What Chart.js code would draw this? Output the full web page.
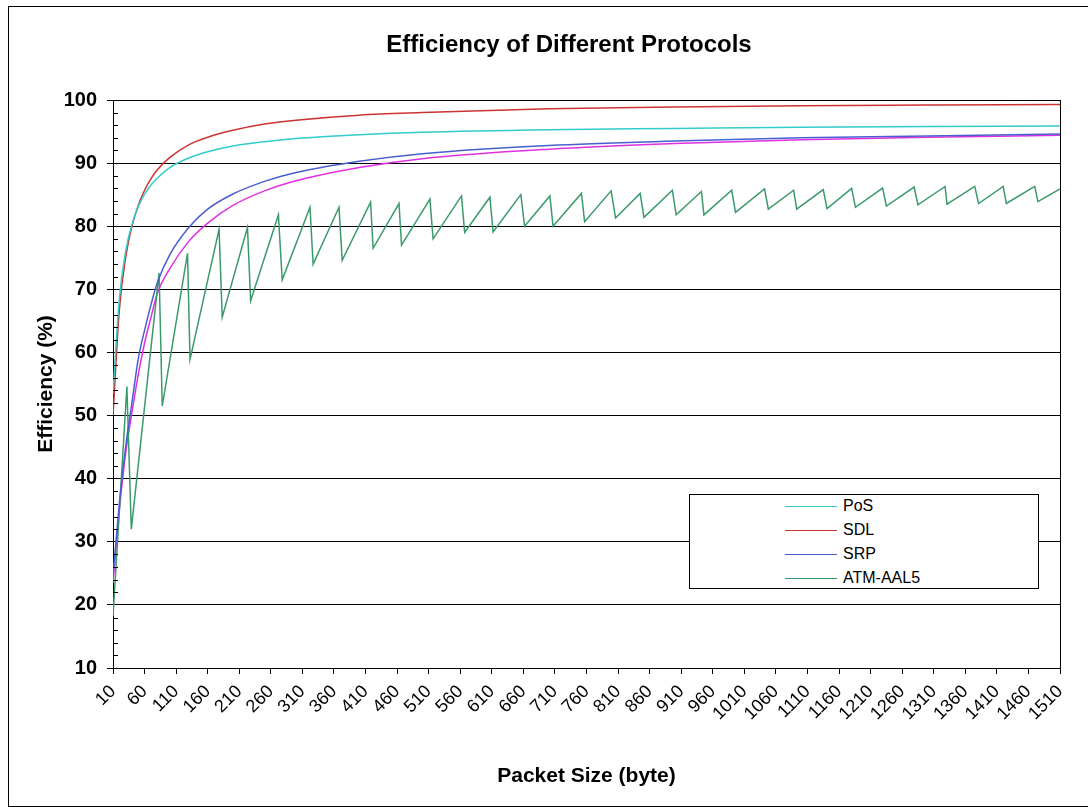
<!DOCTYPE html>
<html>
<head>
<meta charset="utf-8">
<title>Efficiency of Different Protocols</title>
<script src="https://cdn.jsdelivr.net/npm/chart.js@4.4.1/dist/chart.umd.min.js"></script>
<style>
    html, body { margin: 0; padding: 0; background: #fff; overflow: hidden; }
    body { width: 1088px; height: 807px; position: relative; font-family: Arial, "Liberation Sans", sans-serif; }
    #frame { position: absolute; left: 8px; top: 6px; width: 1200px; height: 799px; border: 1px solid #000; }
    #chart { position: absolute; left: 0; top: 0; }
    #legend {
        position: absolute; left: 689px; top: 494px; width: 348px; height: 93px;
        border: 1px solid #000; background: #fff;
    }
    #legend .row { position: absolute; left: 0; height: 24px; width: 100%; }
    #legend .swatch { position: absolute; left: 95px; top: 11px; width: 52px; height: 0; border-top: 1.5px solid; }
    #legend .label { position: absolute; left: 153px; top: 2px; font-size: 16px; line-height: 18px; color: #000; }
</style>
</head>
<body>
<div id="frame"></div>
<canvas id="chart" width="1138" height="807"></canvas>
<div id="legend"></div>
<script>
// x tick labels (packet size, bytes)
const xTicks = [10, 60, 110, 160, 210, 260, 310, 360, 410, 460, 510, 560, 610, 660, 710, 760,
    810, 860, 910, 960, 1010, 1060, 1110, 1160, 1210, 1260, 1310, 1360, 1410, 1460, 1510];

// packet sizes
const packetSizes = [10, 20, 30, 40, 50, 60, 70, 80, 100, 130, 160, 200, 250, 300, 400, 500, 700, 900, 1100, 1300, 1510];
const posValues = [53.5, 68.5, 76, 80.3, 83.1, 85.1, 86.5, 87.6, 89.3, 90.8, 91.8, 92.7, 93.4, 93.9, 94.5, 94.9, 95.3, 95.5, 95.7, 95.8, 95.9];
const sdlValues = [50, 66.7, 75, 80, 83.3, 85.7, 87.5, 88.9, 90.9, 92.9, 94.1, 95.2, 96.2, 96.8, 97.6, 98.0, 98.6, 98.9, 99.1, 99.2, 99.3];
const srpValues = [24.5, 36, 45, 52, 59, 63.5, 67.5, 71, 75.5, 79.8, 82.7, 85.1, 87.1, 88.5, 90.3, 91.5, 92.8, 93.5, 94.0, 94.3, 94.6];
// fifth curve (magenta) has no legend entry in the original
const extraValues = [23.5, 35, 44, 50.5, 56.5, 61.5, 65.5, 69.3, 73.3, 77.6, 80.5, 83.3, 85.6, 87.2, 89.3, 90.7, 92.2, 93.1, 93.7, 94.1, 94.4];

// ATM-AAL5 sawtooth: peaks and troughs
const atmSizes = [10, 32, 39, 83, 88, 128, 132, 178, 183, 223, 228, 272, 278, 322, 327, 368, 373, 418, 422,
    463, 467, 512, 517, 562, 567, 607, 612, 656, 662, 702, 707, 752, 757, 799, 806, 845, 851, 896, 902,
    942, 946, 990, 996, 1042, 1048, 1088, 1093, 1135, 1141, 1180, 1186, 1229, 1235, 1279, 1285,
    1328, 1331, 1375, 1381, 1420, 1425, 1470, 1475, 1510];
const atmValues = [18.2, 54.6, 32.0, 72.6, 51.5, 75.7, 58.9, 79.5, 65.6, 79.8, 68.2, 81.8, 71.5, 83.0, 74.0, 83.0, 74.6, 83.8, 76.5,
    83.6, 77.0, 84.3, 78.0, 84.8, 79.0, 84.6, 79.1, 85.0, 80.0, 84.8, 80.0, 85.2, 80.7, 85.6, 81.3, 85.2, 81.4, 85.7, 81.8,
    85.5, 81.8, 85.7, 82.2, 85.9, 82.7, 85.7, 82.7, 85.8, 82.8, 86.0, 83.0, 86.05, 83.2, 86.2, 83.4,
    86.3, 83.5, 86.3, 83.6, 86.3, 83.6, 86.3, 83.9, 85.9];

const FONT = 'Arial, "Liberation Sans", sans-serif';

function toPoints(xs, ys) {
    return xs.map((x, i) => ({ x: x, y: ys[i] }));
}

function smoothLine(label, values, color) {
    return {
        label: label,
        data: toPoints(packetSizes, values),
        borderColor: color,
        borderWidth: 1.5,
        pointRadius: 0,
        cubicInterpolationMode: 'monotone',
        fill: false,
    };
}

// Excel centred the title a bit left of the plot area
const titleShift = {
    id: 'titleShift',
    afterLayout(chart) {
        chart.titleBlock.left = chart.chartArea.left - 35;
        chart.titleBlock.right = chart.chartArea.right;
    }
};

// minor ticks inside the plot on the y axis, and the plot-area frame
const plotDecor = {
    id: 'plotDecor',
    afterDraw(chart) {
        const { ctx, chartArea } = chart;
        const y = chart.scales.y;
        ctx.save();
        ctx.strokeStyle = '#000';
        ctx.lineWidth = 1;
        ctx.beginPath();
        for (let v = y.min; v <= y.max; v += 2) {
            if (v % 10 === 0) continue;
            const py = Math.round(y.getPixelForValue(v)) + 0.5;
            ctx.moveTo(chartArea.left, py);
            ctx.lineTo(chartArea.left + 5, py);
        }
        ctx.moveTo(Math.round(chartArea.right) + 0.5, chartArea.top);
        ctx.lineTo(Math.round(chartArea.right) + 0.5, chartArea.bottom);
        ctx.stroke();
        ctx.restore();
    }
};

const chart = new Chart(document.getElementById('chart'), {
    type: 'line',
    data: {
        datasets: [
            smoothLine('PoS', posValues, '#33CCCC'),
            smoothLine('SDL', sdlValues, '#CC3333'),
            smoothLine('SRP', srpValues, '#4A5FCF'),
            {
                label: 'ATM-AAL5',
                data: toPoints(atmSizes, atmValues),
                borderColor: '#3A9A6A',
                borderWidth: 1.5,
                pointRadius: 0,
                tension: 0,
                fill: false,
            },
            smoothLine('', extraValues, '#E030E0'),
        ]
    },
    options: {
        responsive: false,
        animation: false,
        layout: { padding: { left: 0, right: 78, top: 0, bottom: 0 } },
        plugins: {
            legend: { display: false },
            tooltip: { enabled: false },
            title: {
                display: true,
                text: 'Efficiency of Different Protocols',
                color: '#000',
                font: { family: FONT, size: 24, weight: 'bold' },
                padding: { top: 31, bottom: 40.2 },
            },
        },
        scales: {
            x: {
                type: 'linear',
                min: 10,
                max: 1510,
                afterBuildTicks: (scale) => { scale.ticks = xTicks.map(v => ({ value: v })); },
                afterFit: (scale) => { scale.height = 139; },
                ticks: {
                    autoSkip: false,
                    maxRotation: 45,
                    minRotation: 45,
                    padding: 7,
                    color: '#000',
                    font: { family: FONT, size: 18 },
                    callback: (v) => String(v),
                },
                grid: { drawOnChartArea: false, drawTicks: true, tickLength: 6, color: '#000' },
                border: { color: '#000', width: 1 },
                title: {
                    display: true,
                    text: 'Packet Size (byte)',
                    color: '#000',
                    font: { family: FONT, size: 21, weight: 'bold' },
                    padding: { top: 0, bottom: 18.4 },
                },
            },
            y: {
                min: 10,
                max: 100,
                afterFit: (scale) => { scale.width = 113; },
                ticks: {
                    stepSize: 10,
                    padding: 10,
                    color: '#000',
                    font: { family: FONT, size: 20, weight: 'bold' },
                },
                grid: { color: '#000', tickLength: 6, lineWidth: 1 },
                border: { color: '#000', width: 1 },
                title: {
                    display: true,
                    text: 'Efficiency (%)',
                    color: '#000',
                    font: { family: FONT, size: 21, weight: 'bold' },
                    padding: { top: 33.4, bottom: 0 },
                },
            },
        },
    },
    plugins: [titleShift, plotDecor],
});

// legend box (the magenta curve has no entry)
const legendEl = document.getElementById('legend');
chart.data.datasets.forEach((ds) => {
    if (!ds.label) return;
    const idx = legendEl.children.length;
    const row = document.createElement('div');
    row.className = 'row';
    row.style.top = (idx * 24) + 'px';
    const sw = document.createElement('div');
    sw.className = 'swatch';
    sw.style.borderTopColor = ds.borderColor;
    const lb = document.createElement('div');
    lb.className = 'label';
    lb.textContent = ds.label;
    row.appendChild(sw);
    row.appendChild(lb);
    legendEl.appendChild(row);
});
</script>
</body>
</html>
